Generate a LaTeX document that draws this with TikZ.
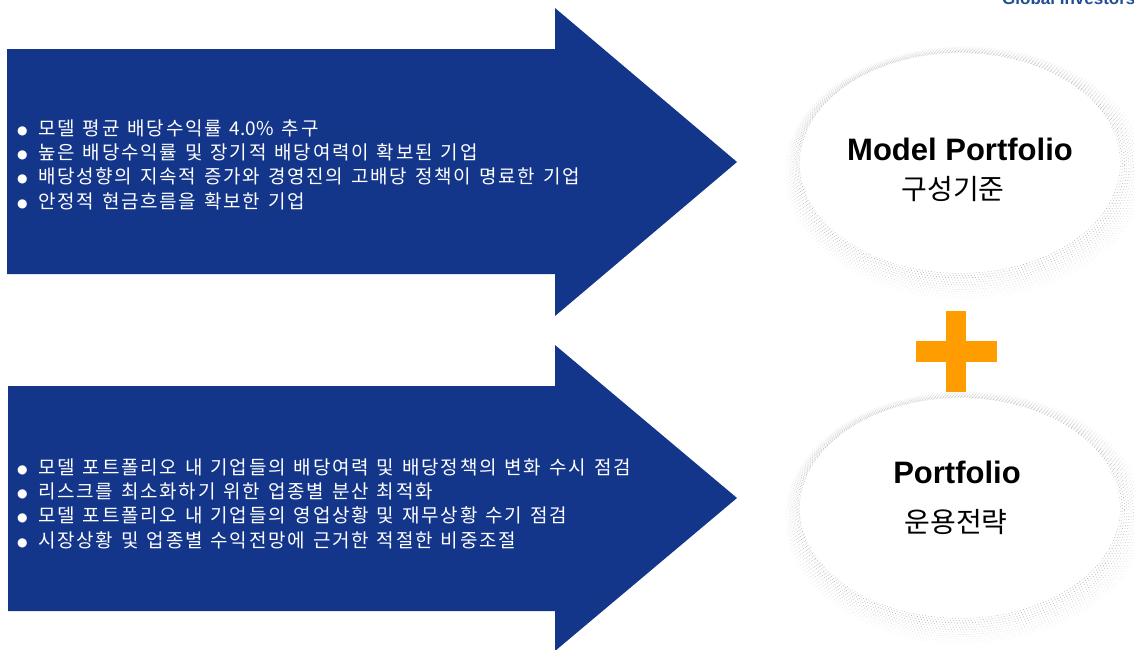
\documentclass[tikz,border=0pt]{standalone}
\usepackage{fontspec}
\setmainfont{Liberation Sans}
\newfontfamily\kr[WordSpace=1.35,LetterSpace=9]{Noto Sans CJK KR}
\newfontfamily\krb{Noto Sans CJK KR}
\newfontfamily\dv{DejaVu Sans}
\usetikzlibrary{shapes.geometric}
\definecolor{navy}{HTML}{13358A}
\definecolor{plusorange}{HTML}{FF9C00}
\definecolor{brandblue}{HTML}{1F4E96}
\newcommand\bul{\makebox[21pt][l]{\dv\fontsize{12}{12}\selectfont\raisebox{1pt}{●}}}
\tikzset{
  bigarrow/.style={fill=navy, draw=none},
  bullets/.style={anchor=west, align=left, text=white, inner sep=0pt, font=\kr\fontsize{19}{24.3}\selectfont},
  halo/.style={line width=0.8pt},
  oval/.style={ellipse, fill=white, draw=none, minimum width=320pt, minimum height=220pt, inner sep=0pt},
  entitle/.style={font=\bfseries\fontsize{31}{31}\selectfont, inner sep=0pt, anchor=base},
  krtitle/.style={font=\krb\fontsize{28}{28}\selectfont, inner sep=0pt, anchor=center}
}
\begin{document}
\begin{tikzpicture}[x=1pt,y=-1pt]
\useasboundingbox (0,0) rectangle (1134,649);
\clip (0,0) rectangle (1134,649);

% arrows
\path[bigarrow] (7,49) -- (555,49) -- (555,8) -- (737,162) -- (555,316) -- (555,274) -- (7,274) -- cycle;
\path[bigarrow] (8,386) -- (555,386) -- (555,345) -- (737,498) -- (555,651) -- (555,611) -- (8,611) -- cycle;

\node[bullets] (b1) at (17,164.5) {\bul 모델 평균 배당수익률 {\krb 4.0\%} 추구\\
\bul 높은 배당수익률 및 장기적 배당여력이 확보된 기업\\
\bul 배당성향의 지속적 증가와 경영진의 고배당 정책이 명료한 기업\\
\bul 안정적 현금흐름을 확보한 기업};

\node[bullets] (b2) at (17,503.5) {\bul 모델 포트폴리오 내 기업들의 배당여력 및 배당정책의 변화 수시 점검\\
\bul 리스크를 최소화하기 위한 업종별 분산 최적화\\
\bul 모델 포트폴리오 내 기업들의 영업상황 및 재무상황 수기 점검\\
\bul 시장상황 및 업종별 수익전망에 근거한 적절한 비중조절};

% halos (dithered soft edge)
\foreach \cy in {163,508} {
  \foreach \i in {0,...,12} {
    \pgfmathsetmacro{\c}{68-5*\i}
    \pgfmathsetmacro{\ph}{mod(\i,3)*0.9}
    \draw[halo, gray!\c, dash pattern=on 0.8pt off 2.2pt, dash phase=\ph pt]
      ({960+\i*0.4},{\cy+\i*0.8}) ellipse ({158+\i*1.8} and {108+\i*1.5});
  }
}
\node[oval] (e1) at (960,163) {};
\node[oval] (e2) at (960,508) {};

\node[entitle] (t1) at (960,160) {Model Portfolio};
\node[krtitle] (t2) at (953,189) {구성기준};
\node[entitle] (t3) at (957,483) {Portfolio};
\node[krtitle] (t4) at (956,522) {운용전략};

% plus
\fill[plusorange] (946,311) rectangle (966,392);
\fill[plusorange] (916,341) rectangle (997,362);

\node[anchor=base west, inner sep=0pt, font=\bfseries\fontsize{17}{17}\selectfont, text=brandblue] (gi) at (1002,4.5) {Global Investors};
\end{tikzpicture}
\end{document}
